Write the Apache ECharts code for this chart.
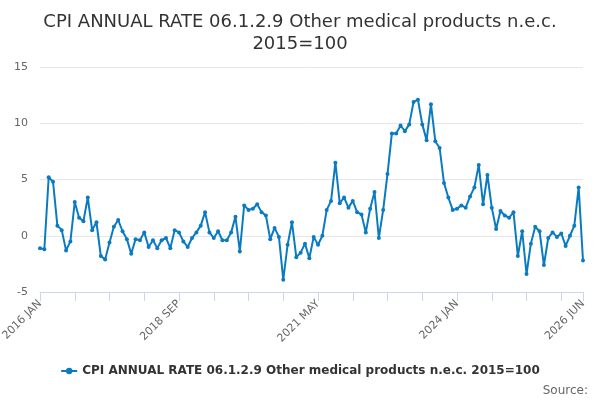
<!DOCTYPE html>
<html>
<head>
<meta charset="utf-8">
<script src="https://cdn.jsdelivr.net/npm/echarts@6/dist/echarts.min.js"></script>
<style>
  html, body { margin: 0; padding: 0; background: #fff; }
  #chart { width: 600px; height: 400px; }
</style>
</head>
<body>
<div id="chart"></div>
<script>
// 月份名称
const monthNames = ['JAN', 'FEB', 'MAR', 'APR', 'MAY', 'JUN', 'JUL', 'AUG', 'SEP', 'OCT', 'NOV', 'DEC'];

// 类目：2016 JAN - 2026 JUN
const categories = [];
for (let y = 2016; y <= 2026; y++) {
  for (let m = 0; m < 12; m++) {
    if (y === 2026 && m > 5) break;
    categories.push(y + ' ' + monthNames[m]);
  }
}

// 年度通胀率
const rateValues = [
  -1.1, -1.2, 5.2, 4.8, 0.9, 0.5, -1.3, -0.5, 3.0, 1.6,
  1.3, 3.4, 0.5, 1.2, -1.8, -2.1, -0.6, 0.8, 1.4, 0.4,
  -0.3, -1.6, -0.3, -0.4, 0.3, -1.0, -0.4, -1.1, -0.4, -0.2,
  -1.1, 0.5, 0.3, -0.5, -1.0, -0.2, 0.3, 0.9, 2.1, 0.3,
  -0.2, 0.4, -0.4, -0.4, 0.3, 1.7, -1.4, 2.7, 2.3, 2.4,
  2.8, 2.1, 1.8, -0.3, 0.7, -0.1, -3.9, -0.8, 1.2, -1.9,
  -1.5, -0.7, -2.0, -0.1, -0.8, 0.0, 2.3, 3.1, 6.5, 2.9,
  3.4, 2.5, 3.1, 2.1, 1.9, 0.3, 2.4, 3.9, -0.2, 2.3,
  5.5, 9.1, 9.1, 9.8, 9.3, 9.9, 11.9, 12.1, 9.9, 8.5,
  11.7, 8.4, 7.8, 4.7, 3.4, 2.3, 2.4, 2.7, 2.5, 3.5,
  4.3, 6.3, 2.8, 5.4, 2.5, 0.6, 2.2, 1.8, 1.6, 2.1,
  -1.8, 0.4, -3.4, -0.7, 0.8, 0.4, -2.6, -0.2, 0.3, -0.1,
  0.2, -0.9, 0.0, 0.9, 4.3, -2.2
];

// Y 轴刻度
const yTicks = [-5, 0, 5, 10, 15];

const seriesName = 'CPI ANNUAL RATE 06.1.2.9 Other medical products n.e.c. 2015=100';
const lastIndex = categories.length - 1;

const chart = echarts.init(document.getElementById('chart'));

chart.setOption({
  animation: false,
  textStyle: { fontFamily: 'DejaVu Sans' },
  title: {
    text: 'CPI ANNUAL RATE 06.1.2.9 Other medical products n.e.c.\n2015=100',
    left: 'center',
    top: 6,
    textStyle: { fontSize: 18, fontWeight: 'normal', color: '#333', lineHeight: 22, fontFamily: 'DejaVu Sans' }
  },
  graphic: [{
    type: 'text',
    right: 12,
    bottom: 3,
    style: { text: 'Source:', fontSize: 12, fill: '#666', fontFamily: 'DejaVu Sans' }
  }],
  legend: {
    bottom: 18,
    left: 'center',
    itemWidth: 16,
    itemHeight: 8,
    itemGap: 10,
    textStyle: { fontSize: 12, fontWeight: 'bold', color: '#333', fontFamily: 'DejaVu Sans' },
    data: [seriesName]
  },
  grid: { left: 40, right: 17, top: 67, bottom: 108, outerBoundsMode: 'none' },
  xAxis: {
    type: 'category',
    data: categories,
    boundaryGap: false,
    axisLine: { onZero: false, lineStyle: { color: '#ccd6eb' } },
    axisTick: {
      length: 9,
      lineStyle: { color: '#ccd6eb' },
      interval: (idx) => idx % 8 === 0 || idx === lastIndex
    },
    axisLabel: {
      rotate: 45,
      color: '#666',
      fontSize: 11,
      margin: 10,
      interval: (idx) => idx % 32 === 0 || idx === lastIndex
    },
    splitLine: { show: false }
  },
  yAxis: {
    type: 'value',
    min: yTicks[0],
    max: yTicks[yTicks.length - 1],
    interval: 5,
    axisLine: { show: false },
    axisTick: { show: false },
    axisLabel: { color: '#666', fontSize: 11, margin: 12 },
    splitLine: { lineStyle: { color: '#e6e6e6' } }
  },
  series: [{
    name: seriesName,
    type: 'line',
    data: rateValues,
    symbol: 'circle',
    symbolSize: 4,
    showAllSymbol: true,
    itemStyle: { color: '#0b7bc1' },
    lineStyle: { width: 2, color: '#0b7bc1' }
  }]
});
</script>
</body>
</html>
